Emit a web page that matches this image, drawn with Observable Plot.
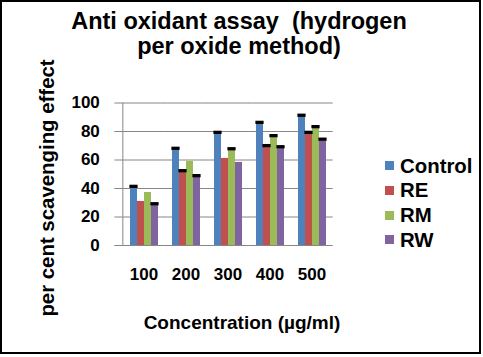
<!DOCTYPE html>
<html>
<head>
<meta charset="utf-8">
<script src="https://cdn.jsdelivr.net/npm/d3@7"></script>
<script src="https://cdn.jsdelivr.net/npm/@observablehq/plot@0.6"></script>
<style>
  html, body { margin: 0; padding: 0; background: #fff; }
  #wrap { position: relative; width: 483px; height: 357px; overflow: hidden;
          font-family: "Liberation Sans", Arial, sans-serif; color: #000; }
  #wrap svg { position: absolute; left: 0; top: 0; overflow: visible; }
  .frame { position: absolute; left: 0; top: 0; width: 481px; height: 354px;
           box-sizing: border-box; border: 2px solid #000; pointer-events: none; }
  .title { position: absolute; left: 0; top: 8.5px; width: 478px; text-align: center;
           font-weight: bold; font-size: 23.5px; line-height: 25px; }
  .ytitle { position: absolute; left: 47px; top: 188px; white-space: nowrap;
            font-weight: bold; font-size: 20.4px; line-height: 20px;
            transform: translate(-50%, -50%) rotate(-90deg); }
  .xtitle { position: absolute; left: 0; top: 313px; width: 484px; text-align: center;
            font-weight: bold; font-size: 19px; line-height: 19px; white-space: nowrap; }
  .legend { position: absolute; left: 385px; top: 153.5px; font-weight: bold;
            font-size: 20.4px; line-height: 24.7px; }
  .legend .row { display: flex; align-items: center; height: 24.7px; }
  .legend .sw { width: 9px; height: 9px; margin-right: 6px; }
</style>
</head>
<body>
<div id="wrap"></div>
<script>
// ---- data ----
const titleLines = ["Anti oxidant assay  (hydrogen", "per oxide method)"];
const yTitle = "per cent scavenging effect";
const xTitle = "Concentration (µg/ml)";
const concentrations = [100, 200, 300, 400, 500];
const series = ["Control", "RE", "RM", "RW"];
const colors = ["#4F81BD", "#C0504D", "#9BBB59", "#8064A2"];
const controlValues = [40.3, 67.0, 78.2, 85.2, 90.2];
const reValues      = [30.9, 51.3, 61.1, 68.9, 78.2];
const rmValues      = [37.2, 59.0, 66.7, 75.9, 82.2];
const rwValues      = [28.1, 47.8, 58.3, 68.1, 73.4];
// error bars (only the upper caps are visible); null = no error bar drawn
const controlErr = [1.2, 1.2, 1.2, 1.2, 1.2];
const reErr      = [null, 1.2, null, 1.2, 1.2];
const rmErr      = [null, null, 1.2, 1.2, 1.2];
const rwErr      = [1.2, 1.2, null, 1.2, 1.2];
const yTicks = [0, 20, 40, 60, 80, 100];

// ---- build table ----
const valueSets = [controlValues, reValues, rmValues, rwValues];
const errSets = [controlErr, reErr, rmErr, rwErr];
const data = [];
series.forEach((s, i) => concentrations.forEach((c, j) => {
  data.push({conc: c, series: s, value: valueSets[i][j], err: errSets[i][j]});
}));
const caps = data.filter(d => d.err != null);

// layout constants
const W = 483, H = 357;
const mL = 122, mR = 151, mT = 102.5, mB = 112;
const padInner = 0.27, padOuter = 0.135;
const step = (W - mL - mR) / concentrations.length;
const halfGap = step * padOuter;

const gridColor = "#868686";

const chart = Plot.plot({
  width: W, height: H,
  marginLeft: mL, marginRight: mR, marginTop: mT, marginBottom: mB,
  style: {fontFamily: "'Liberation Sans', Arial, sans-serif", background: "transparent", color: "#000"},
  fx: {domain: concentrations, paddingInner: padInner, paddingOuter: padOuter, label: null},
  x: {domain: series, padding: 0, axis: null},
  y: {domain: [0, 100], axis: null},
  color: {domain: series, range: colors},
  marks: [
    Plot.ruleY(yTicks, {stroke: gridColor, strokeWidth: 1, insetLeft: -halfGap, insetRight: -halfGap}),
    Plot.frame({anchor: "left", facetAnchor: "left", stroke: gridColor, strokeWidth: 1, dx: -halfGap}),
    Plot.axisY(yTicks, {anchor: "left", tickSize: 8, tickPadding: 15, stroke: gridColor, fill: "#000",
                        fontSize: 17, fontWeight: "bold", label: null, dx: -halfGap}),
    Plot.axisFx({anchor: "bottom", tickSize: 0, tickPadding: 22, fontSize: 17, fontWeight: "bold", label: null, fill: "#000"}),
    Plot.barY(data, {fx: "conc", x: "series", y: "value", fill: "series"}),
    Plot.tickY(caps, {fx: "conc", x: "series", y: d => d.value + d.err, stroke: "#000",
                      strokeWidth: 3.3, insetLeft: -0.6, insetRight: -0.6})
  ]
});

const wrap = document.getElementById("wrap");
wrap.appendChild(chart);

const t = document.createElement("div");
t.className = "title";
t.innerHTML = titleLines.map(s => s.replace(/  /g, " &nbsp;")).join("<br>");
wrap.appendChild(t);

const yt = document.createElement("div");
yt.className = "ytitle"; yt.textContent = yTitle; wrap.appendChild(yt);

const xt = document.createElement("div");
xt.className = "xtitle"; xt.textContent = xTitle; wrap.appendChild(xt);

const lg = document.createElement("div");
lg.className = "legend";
series.forEach((s, i) => {
  const row = document.createElement("div"); row.className = "row";
  const sw = document.createElement("div"); sw.className = "sw"; sw.style.background = colors[i];
  const tx = document.createElement("span"); tx.textContent = s;
  row.appendChild(sw); row.appendChild(tx); lg.appendChild(row);
});
wrap.appendChild(lg);

const fr = document.createElement("div"); fr.className = "frame"; wrap.appendChild(fr);
</script>
</body>
</html>
